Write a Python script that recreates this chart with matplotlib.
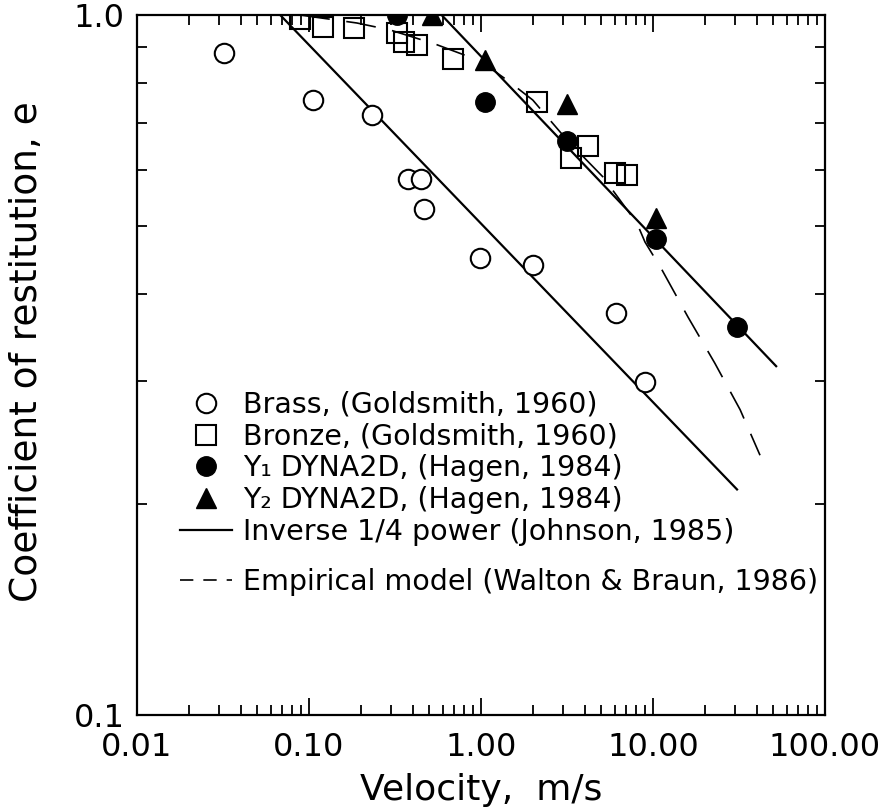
import matplotlib
matplotlib.use("Agg")
import matplotlib.pyplot as plt
from matplotlib.ticker import FixedLocator, FixedFormatter, NullFormatter
from matplotlib.lines import Line2D

# Brass, Goldsmith 1960 (open circles)
brass_v = [0.032, 0.105, 0.232, 0.377, 0.448, 0.465, 0.99, 2.0, 6.1, 9.0]
brass_e = [0.882, 0.756, 0.72, 0.583, 0.583, 0.528, 0.45, 0.44, 0.375, 0.299]

# Bronze, Goldsmith 1960 (open squares)
bronze_v = [0.089, 0.121, 0.183, 0.325, 0.357, 0.425, 0.688, 2.12, 4.19, 3.34, 6.0, 7.06]
bronze_e = [0.987, 0.961, 0.958, 0.942, 0.915, 0.906, 0.865, 0.751, 0.65, 0.625, 0.595, 0.591]

# Y1 DYNA2D, Hagen 1984 (filled circles)
y1_v = [0.325, 1.055, 3.16, 10.4, 30.8]
y1_e = [1.0, 0.751, 0.66, 0.479, 0.358]

# Y2 DYNA2D, Hagen 1984 (filled triangles)
y2_v = [0.52, 1.055, 3.16, 10.4]
y2_e = [1.0, 0.862, 0.746, 0.513]

# inverse 1/4 power lines (end points)
johnson_lo_v = [0.068, 30.8]
johnson_lo_e = [1.0, 0.21]
johnson_hi_v = [0.59, 52.0]
johnson_hi_e = [1.0, 0.315]

# empirical model curve (Walton & Braun)
walton_v = [0.0887, 0.19, 0.296, 0.54, 0.987, 1.41, 2.0, 3.16, 5.12, 8.07, 8.98,
            11.3, 16.0, 22.9, 32.1, 41.9]
walton_e = [1.0, 0.974, 0.952, 0.909, 0.86, 0.808, 0.756, 0.663, 0.587, 0.504, 0.474,
            0.432, 0.370, 0.318, 0.273, 0.235]

x_ticks = [0.01, 0.1, 1.0, 10.0, 100.0]
x_labels = ["0.01", "0.10", "1.00", "10.00", "100.00"]
y_ticks = [0.1, 1.0]
y_labels = ["0.1", "1.0"]
y_minor = [0.2, 0.3, 0.4, 0.5, 0.6, 0.7, 0.8, 0.9]

fig = plt.figure(figsize=(8.87, 8.09), dpi=100)
ax = fig.add_axes([137 / 887, 1 - 715 / 809, 688 / 887, 700 / 809])

ms = 14
mew = 1.5
ax.plot(brass_v, brass_e, 'o', ms=ms, mfc='white', mec='black', mew=mew, zorder=3)
ax.plot(bronze_v, bronze_e, 's', ms=ms, mfc='none', mec='black', mew=mew, zorder=3)
ax.plot(y1_v, y1_e, 'o', ms=ms, mfc='black', mec='black', zorder=4)
ax.plot(y2_v, y2_e, '^', ms=ms, mfc='black', mec='black', zorder=4)
ax.plot(johnson_lo_v, johnson_lo_e, '-', color='black', lw=1.6)
ax.plot(johnson_hi_v, johnson_hi_e, '-', color='black', lw=1.6)
ax.plot(walton_v, walton_e, color='black', lw=1.2, dashes=(18, 10))

ax.set_xscale('log')
ax.set_yscale('log')
ax.set_xlim(0.01, 100)
ax.set_ylim(0.1, 1.0)

ax.xaxis.set_major_locator(FixedLocator(x_ticks))
ax.xaxis.set_major_formatter(FixedFormatter(x_labels))
ax.xaxis.set_minor_formatter(NullFormatter())
ax.yaxis.set_major_locator(FixedLocator(y_ticks))
ax.yaxis.set_major_formatter(FixedFormatter(y_labels))
ax.yaxis.set_minor_locator(FixedLocator(y_minor))
ax.yaxis.set_minor_formatter(NullFormatter())

ax.tick_params(which='both', direction='in', top=True, right=True, width=1.3)
ax.tick_params(which='major', length=12, labelsize=23)
ax.tick_params(axis='x', which='major', pad=12)
ax.tick_params(axis='y', which='major', pad=9)
ax.tick_params(which='minor', length=7)
for s in ax.spines.values():
    s.set_linewidth(1.6)

ax.set_xlabel("Velocity,  m/s", fontsize=26)
ax.set_ylabel("Coefficient of restitution, e", fontsize=27)
ax.xaxis.set_label_coords(0.5, -0.083)
ax.yaxis.set_label_coords(-0.134, 0.519)

fs_leg = 20.5
handles1 = [
    Line2D([], [], ls='none', marker='o', ms=ms, mfc='white', mec='black', mew=mew),
    Line2D([], [], ls='none', marker='s', ms=ms, mfc='white', mec='black', mew=mew),
    Line2D([], [], ls='none', marker='o', ms=ms, mfc='black', mec='black'),
    Line2D([], [], ls='none', marker='^', ms=ms, mfc='black', mec='black'),
    Line2D([], [], color='black', lw=1.6),
]
labels1 = [
    "Brass, (Goldsmith, 1960)",
    "Bronze, (Goldsmith, 1960)",
    "Y\u2081 DYNA2D, (Hagen, 1984)",
    "Y\u2082 DYNA2D, (Hagen, 1984)",
    "Inverse 1/4 power (Johnson, 1985)",
]
leg1 = ax.legend(handles1, labels1, loc='upper left', bbox_to_anchor=(180 / 887, 1 - 391 / 809),
                 bbox_transform=fig.transFigure, frameon=False, fontsize=fs_leg,
                 handlelength=1.82, handletextpad=0.39, labelspacing=0.13,
                 borderpad=0, borderaxespad=0, numpoints=1)
ax.add_artist(leg1)

handles2 = [Line2D([], [], color='black', lw=1.2, dashes=(8, 6))]
labels2 = ["Empirical model (Walton & Braun, 1986)"]
ax.legend(handles2, labels2, loc='upper left', bbox_to_anchor=(180 / 887, 1 - 568 / 809),
          bbox_transform=fig.transFigure, frameon=False, fontsize=fs_leg,
          handlelength=1.82, handletextpad=0.39, borderpad=0, borderaxespad=0)

fig.savefig("out.png", dpi=100)
